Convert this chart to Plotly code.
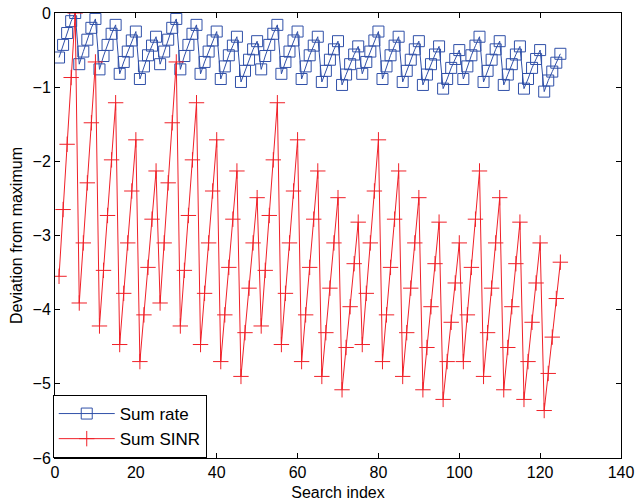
import plotly.graph_objects as go

search_index = list(range(1, 126))

sum_rate = [
    -0.60, -0.43, -0.27, -0.11, 0.00,
    -0.69, -0.52, -0.36, -0.20, -0.08,
    -0.76, -0.58, -0.43, -0.28, -0.16,
    -0.82, -0.66, -0.52, -0.37, -0.25,
    -0.89, -0.72, -0.57, -0.44, -0.32,
    -0.69, -0.52, -0.36, -0.20, -0.08,
    -0.76, -0.58, -0.43, -0.28, -0.16,
    -0.82, -0.66, -0.52, -0.37, -0.25,
    -0.89, -0.72, -0.57, -0.44, -0.32,
    -0.93, -0.78, -0.63, -0.49, -0.38,
    -0.76, -0.58, -0.43, -0.28, -0.16,
    -0.82, -0.66, -0.52, -0.37, -0.25,
    -0.89, -0.72, -0.57, -0.44, -0.32,
    -0.93, -0.78, -0.63, -0.49, -0.38,
    -0.97, -0.83, -0.69, -0.56, -0.45,
    -0.82, -0.66, -0.52, -0.37, -0.25,
    -0.89, -0.72, -0.57, -0.44, -0.32,
    -0.93, -0.78, -0.63, -0.49, -0.38,
    -0.97, -0.83, -0.69, -0.56, -0.45,
    -1.02, -0.89, -0.74, -0.62, -0.50,
    -0.89, -0.72, -0.57, -0.44, -0.32,
    -0.93, -0.78, -0.63, -0.49, -0.38,
    -0.97, -0.83, -0.69, -0.56, -0.45,
    -1.02, -0.89, -0.74, -0.62, -0.50,
    -1.06, -0.91, -0.79, -0.67, -0.55,
]

sum_sinr = [
    -3.55, -2.65, -1.77, -0.87, 0.00,
    -3.91, -3.10, -2.29, -1.48, -0.66,
    -4.22, -3.47, -2.73, -1.98, -1.21,
    -4.47, -3.78, -3.10, -2.40, -1.71,
    -4.70, -4.07, -3.43, -2.78, -2.13,
    -3.91, -3.10, -2.29, -1.48, -0.66,
    -4.22, -3.47, -2.73, -1.98, -1.21,
    -4.47, -3.78, -3.10, -2.40, -1.71,
    -4.70, -4.07, -3.43, -2.78, -2.13,
    -4.90, -4.31, -3.71, -3.10, -2.49,
    -4.22, -3.47, -2.73, -1.98, -1.21,
    -4.47, -3.78, -3.10, -2.40, -1.71,
    -4.70, -4.07, -3.43, -2.78, -2.13,
    -4.90, -4.31, -3.71, -3.10, -2.49,
    -5.08, -4.51, -3.96, -3.38, -2.82,
    -4.47, -3.78, -3.10, -2.40, -1.71,
    -4.70, -4.07, -3.43, -2.78, -2.13,
    -4.90, -4.31, -3.71, -3.10, -2.49,
    -5.08, -4.51, -3.96, -3.38, -2.82,
    -5.21, -4.70, -4.17, -3.64, -3.10,
    -4.70, -4.07, -3.43, -2.78, -2.13,
    -4.90, -4.31, -3.71, -3.10, -2.49,
    -5.08, -4.51, -3.96, -3.38, -2.82,
    -5.21, -4.70, -4.17, -3.64, -3.10,
    -5.36, -4.86, -4.37, -3.85, -3.36,
]

x_ticks = [0, 20, 40, 60, 80, 100, 120, 140]
y_ticks = [-6, -5, -4, -3, -2, -1, 0]

blue = "#3050a8"
red = "#f02028"
FONT = "Liberation Sans, Arial, Helvetica, sans-serif"

fig = go.Figure()
fig.add_trace(go.Scatter(
    x=search_index, y=sum_rate, mode="lines+markers", name="Sum rate",
    line=dict(color=blue, width=1),
    marker=dict(symbol="square-open", size=11, color=blue, line=dict(width=1, color=blue)),
))
fig.add_trace(go.Scatter(
    x=search_index, y=sum_sinr, mode="lines+markers", name="Sum SINR",
    line=dict(color=red, width=1),
    marker=dict(symbol="cross-thin", size=11, color=red, line=dict(width=1, color=red)),
))

axis_common = dict(
    showgrid=False, zeroline=False, showline=True, linecolor="black", linewidth=1,
    mirror="allticks", ticks="inside", ticklen=5, tickcolor="black",
    ticklabeloverflow="allow",
    tickfont=dict(family=FONT, size=16, color="black"),
)

fig.update_layout(
    width=637, height=501,
    margin=dict(l=55, r=16, t=13, b=42.5),
    paper_bgcolor="white", plot_bgcolor="white",
    font=dict(family=FONT, size=16, color="black"),
    xaxis=dict(range=[0, 140], tickvals=x_ticks, automargin=False,
               title=dict(text="Search index", standoff=11, font=dict(size=16)),
               **axis_common),
    yaxis=dict(range=[-6, 0], tickvals=y_ticks, automargin=False,
               title=dict(text="Deviation from maximum", standoff=5, font=dict(size=16)),
               **axis_common),
    legend=dict(x=-0.004, y=0, xanchor="left", yanchor="bottom",
                bgcolor="white", bordercolor="black", borderwidth=1,
                font=dict(size=17), itemwidth=56, tracegroupgap=0),
    showlegend=True,
)

# remove the default page margin so the figure fills the 637x501 window exactly
fig.write_html("out.html", config={"displayModeBar": False},
               post_script="document.body.style.margin='0';document.body.style.overflow='hidden';")
